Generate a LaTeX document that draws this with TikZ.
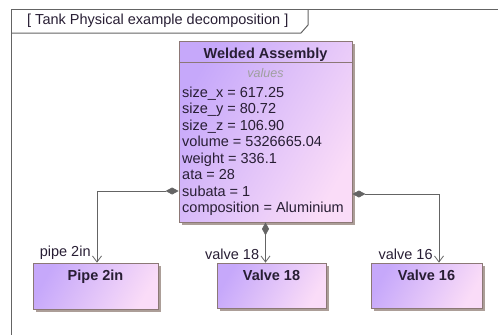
\documentclass[tikz,border=0pt]{standalone}
\usepackage{fontspec}
\setmainfont{Liberation Sans}
\usetikzlibrary{arrows.meta,shadows}

\definecolor{boxpurple}{RGB}{198,168,250}
\definecolor{boxpink}{RGB}{250,220,248}
\definecolor{boxline}{RGB}{140,120,118}
\definecolor{boxshadow}{RGB}{172,158,152}
\definecolor{frameline}{RGB}{100,100,100}
\definecolor{inktext}{RGB}{40,30,52}

\begin{document}
\begin{tikzpicture}[x=1pt,y=-1pt,
    block/.style={draw=boxline,line width=0.8pt,left color=boxpurple,right color=boxpink,shading angle=60,
      drop shadow={shadow xshift=2.5pt,shadow yshift=-2.5pt,fill=boxshadow,opacity=1}},
    title/.style={anchor=north,font=\fontsize{14.5}{16}\selectfont\bfseries,text=inktext},
    attr/.style={anchor=base west,inner sep=0pt,font=\fontsize{14.5}{16}\selectfont,text=inktext},
    lbl/.style={anchor=south east,inner xsep=6pt,inner ysep=3pt,font=\fontsize{14.5}{16}\selectfont,text=inktext},
    compose/.style={draw=frameline,line width=0.8pt,{Diamond[length=13pt,width=7pt]}-{Straight Barb[length=6pt,width=9pt]}}]

  \useasboundingbox (0,0) rectangle (498,335);

  % frame and its name tab
  \draw[frameline,line width=1pt] (498,9) -- (11,9) -- (11,335);
  \draw[frameline,line width=1pt] (11,33) -- (301,33) -- (308,25) -- (308,9);
  \node[anchor=west,inner sep=0pt,font=\fontsize{14.5}{16}\selectfont,text=inktext] (diagname) at (27,21) {[ Tank Physical example decomposition ]};

  % whole
  \node[block,minimum width=173,minimum height=181] (welded) at (265.5,131.5) {};
  \node[title] (weldedname) at ([yshift=-3.5pt]welded.north) {Welded Assembly};
  \draw[boxline,line width=0.8pt] ([yshift=-22pt]welded.north west) -- ([yshift=-22pt]welded.north east);
  \node[font=\fontsize{12.5}{14}\selectfont\itshape,text=gray!75] (values) at (265.5,73) {values};
  \foreach \t [count=\i] in {size\_x = 617.25, size\_y = 80.72, size\_z = 106.90, volume = 5326665.04,
      weight = 336.1, ata = 28, subata = 1, composition = Aluminium}
    \node[attr] (attr\i) at (182,97+16.5*\i-16.5) {\t};

  % parts
  \node[block,minimum width=125,minimum height=46] (pipe) at (95.5,286) {};
  \node[title] (pipename) at ([yshift=-3.5pt]pipe.north) {Pipe 2in};
  \node[block,minimum width=109,minimum height=45] (valve18) at (271.5,285.5) {};
  \node[title] (valve18name) at ([yshift=-3.5pt]valve18.north) {Valve 18};
  \node[block,minimum width=111,minimum height=45] (valve16) at (426.5,285.5) {};
  \node[title] (valve16name) at ([yshift=-3.5pt]valve16.north) {Valve 16};

  \draw[compose] ([yshift=-59.5pt]welded.west) -| ([xshift=1.5pt]pipe.north) node[lbl,pos=1] {pipe 2in};
  \draw[compose] (welded.south) -- (welded.south |- valve18.north) node[lbl,pos=1] {valve 18};
  \draw[compose] ([yshift=-62.5pt]welded.east) -| ([xshift=12.5pt]valve16.north) node[lbl,pos=1] {valve 16};
\end{tikzpicture}
\end{document}
